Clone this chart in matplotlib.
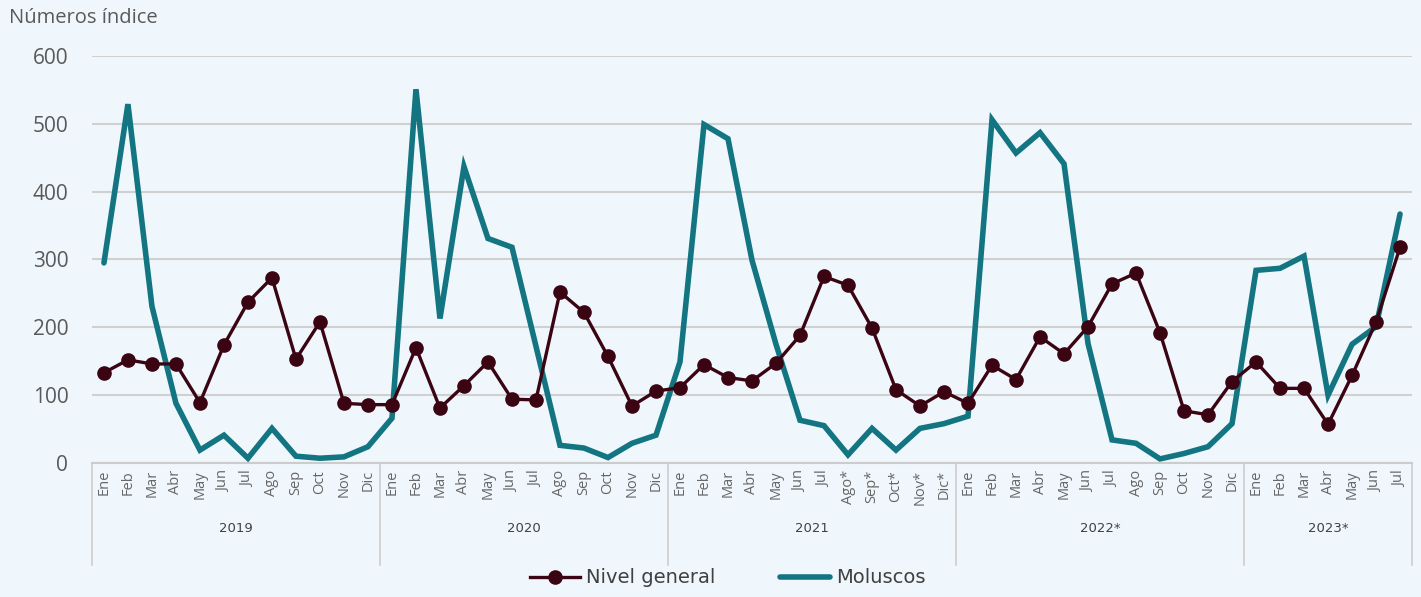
import matplotlib
matplotlib.use('Agg')
import matplotlib.pyplot as plt
import matplotlib.transforms as mtransforms

months = ['Ene', 'Feb', 'Mar', 'Abr', 'May', 'Jun', 'Jul', 'Ago', 'Sep', 'Oct', 'Nov', 'Dic']
months_2021 = ['Ene', 'Feb', 'Mar', 'Abr', 'May', 'Jun', 'Jul', 'Ago*', 'Sep*', 'Oct*', 'Nov*', 'Dic*']
months_2023 = ['Ene', 'Feb', 'Mar', 'Abr', 'May', 'Jun', 'Jul']
month_labels = months + months + months_2021 + months + months_2023
years = ['2019', '2020', '2021', '2022*', '2023*']
year_sizes = [12, 12, 12, 12, 7]

nivel_general = [133, 152, 146, 146, 89, 174, 237, 273, 153, 208, 88, 86,
                 86, 170, 81, 114, 149, 94, 93, 252, 222, 157, 84, 106,
                 111, 145, 126, 121, 147, 188, 275, 262, 199, 108, 84, 105,
                 88, 144, 123, 186, 161, 201, 264, 280, 192, 77, 71, 120,
                 149, 110, 110, 57, 129, 208, 318]
moluscos = [295, 529, 231, 88, 19, 41, 7, 51, 10, 7, 9, 24,
            66, 551, 213, 437, 331, 318, 172, 26, 22, 8, 29, 41,
            149, 499, 478, 299, 175, 63, 55, 12, 51, 19, 51, 58,
            69, 506, 457, 487, 441, 176, 34, 29, 6, 14, 24, 58,
            284, 287, 305, 100, 175, 201, 367]

bg = '#eff7fc'
c_nivel = '#3b0412'
c_mol = '#127581'
txt = '#595959'

fig = plt.figure(figsize=(14.21, 5.97), dpi=100, facecolor=bg)
ax = fig.add_axes([0.0647, 0.2245, 0.9290, 0.6817], facecolor=bg)

x = list(range(len(month_labels)))
ax.plot(x, nivel_general, color=c_nivel, lw=2.4, marker='o', markersize=9.5,
        label='Nivel general', zorder=3)
ax.plot(x, moluscos, color=c_mol, lw=4, label='Moluscos', zorder=2,
        solid_capstyle='round', solid_joinstyle='miter')

ax.set_xlim(-0.5, len(x) - 0.5)
ax.set_ylim(0, 600)
ax.set_yticks(range(0, 601, 100))
ax.tick_params(axis='y', length=0, labelsize=15, labelcolor=txt, pad=17)
ax.set_xticks(x)
ax.set_xticklabels(month_labels, rotation=90, fontsize=10.5, color='#666666', family='Open Sans')
ax.tick_params(axis='x', length=0, pad=5)
for lab in ax.get_yticklabels():
    lab.set_family('Open Sans')
ax.grid(axis='y', color='#d0d0d0', lw=1.5)
ax.set_axisbelow(True)
for s in ['top', 'right', 'left']:
    ax.spines[s].set_visible(False)
ax.spines['bottom'].set_color('#cccccc')
ax.spines['bottom'].set_linewidth(1.5)

# year groups below the month labels
trans = mtransforms.blended_transform_factory(ax.transData, ax.transAxes)
start = -0.5
bounds = [start]
for name, n in zip(years, year_sizes):
    ax.text(start + n / 2, -0.16, name, transform=trans, ha='center', va='center',
            fontsize=9.5, color='#404040')
    start += n
    bounds.append(start)
for b in bounds:
    ax.plot([b, b], [0, -0.25], transform=trans, color='#cccccc', lw=1.2, clip_on=False)

fig.text(0.006, 0.97, 'Números índice', fontsize=14.5, color=txt, family='Open Sans',
         va='center', ha='left')

fig.legend(loc='center', bbox_to_anchor=(0.512, 0.032), ncol=2, frameon=False,
           prop={'size': 14}, labelcolor='#404040',
           handlelength=2.6, handletextpad=0.3, columnspacing=3.3)

fig.savefig('out.png', dpi=100, facecolor=bg)
